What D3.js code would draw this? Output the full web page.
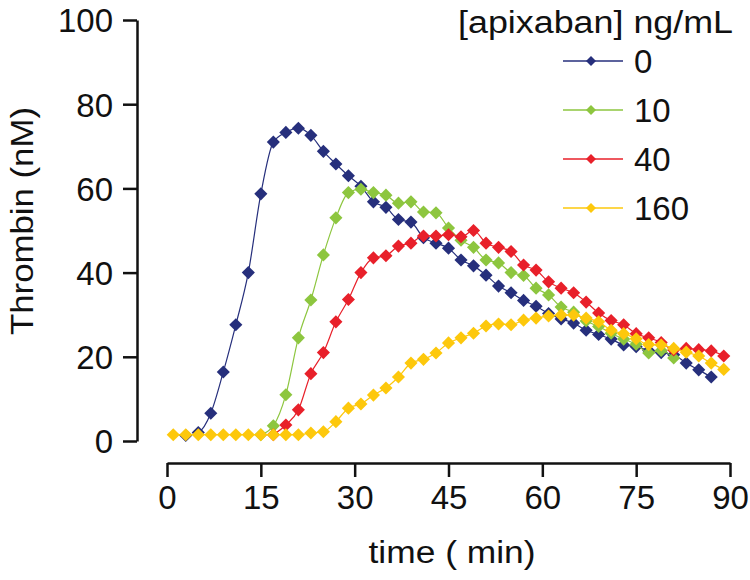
<!DOCTYPE html>
<html><head><meta charset="utf-8">
<script src="https://cdn.jsdelivr.net/npm/d3@7"></script>
<style>body{margin:0;background:#fff}svg{display:block}text{font-family:"Liberation Sans",Arial,sans-serif;fill:#111}</style>
</head><body><svg id="c" width="750" height="580"></svg>
<script>
const times = [1,3,5,7,9,11,13,15,17,19,21,23,25,27,29,31,33,35,37,39,41,43,45,47,49,51,53,55,57,59,61,63,65,67,69,71,73,75,77,79,81,83,85,87,89];
const seriesNames = ["0","10","40","160"];
const seriesColors = ["#262f7c","#8dc63f","#e8202a","#fdc80c"];
const apix0 = [null,1.3,2.0,6.6,16.4,27.6,40.0,58.7,71.0,73.3,74.3,72.6,68.8,65.8,63.0,60.5,56.8,55.5,52.6,52.0,48.3,47.0,45.8,43.0,41.6,39.4,36.8,35.2,33.4,32.0,30.3,29.0,28.0,26.3,25.3,24.2,22.8,22.4,21.5,21.0,20.5,18.5,16.9,15.2,null];
const apix10 = [null,null,null,null,null,null,null,1.5,3.6,11.0,24.5,33.5,44.2,53.0,59.0,59.8,59.0,58.4,56.5,56.8,54.4,54.2,50.6,47.7,46.0,43.0,42.3,40.0,39.3,36.3,34.7,31.8,30.6,28.5,27.2,25.6,24.2,23.0,20.9,21.5,19.7,null,null,null,null];
const apix40 = [null,null,null,null,null,null,null,null,1.5,3.8,7.4,16.0,21.0,28.3,33.6,40.0,43.5,44.0,46.3,47.0,48.7,48.7,49.0,48.5,50.0,47.0,46.0,45.0,41.8,40.6,37.8,36.3,35.2,33.0,30.4,28.6,27.6,25.5,24.5,23.4,21.6,22.0,21.7,21.4,20.2];
const apix160 = [1.5,1.5,1.5,1.5,1.5,1.5,1.5,1.5,1.5,1.5,1.5,1.9,2.2,4.6,7.8,8.8,10.9,12.6,15.2,18.5,19.4,20.9,23.3,24.5,25.6,27.3,27.8,27.6,28.7,29.2,29.7,29.9,29.9,29.2,28.3,26.3,25.5,24.3,22.9,22.8,22.0,21.1,20.2,18.5,17.0];
const xTicks = [0,15,30,45,60,75,90];
const yTicks = [0,20,40,60,80,100];
const allSeries = [apix0, apix10, apix40, apix160];

const svg = d3.select("#c");
const x = d3.scaleLinear().domain([0,90]).range([167,730]);
const y = d3.scaleLinear().domain([0,100]).range([441,20]);

const yAxis = svg.append("g").attr("transform","translate(137,0)")
  .call(d3.axisLeft(y).tickValues(yTicks).tickSize(14).tickPadding(10).tickSizeOuter(0));
const xAxis = svg.append("g").attr("transform","translate(0,463)")
  .call(d3.axisBottom(x).tickValues(xTicks).tickSize(14).tickPadding(9).tickSizeOuter(0));
[yAxis,xAxis].forEach(a=>{
  a.select(".domain").attr("stroke","#111").attr("stroke-width",2.5);
  a.selectAll(".tick line").attr("stroke","#111").attr("stroke-width",2.5);
  a.selectAll(".tick text").attr("font-size",33).attr("font-family","Liberation Sans, Arial, sans-serif").attr("fill","#111");
});
yAxis.selectAll(".tick text").attr("dy","0.36em");

svg.append("text").attr("transform","translate(33,221) rotate(-90)")
  .attr("text-anchor","middle").attr("font-size",32).attr("textLength",228).attr("lengthAdjust","spacingAndGlyphs").text("Thrombin (nM)");
svg.append("text").attr("x",452).attr("y",563).attr("text-anchor","middle")
  .attr("font-size",31).attr("textLength",167).attr("lengthAdjust","spacingAndGlyphs").text("time ( min)");

const sym = d3.symbol().type(d3.symbolSquare).size(86);
allSeries.forEach((vals,si)=>{
  const pts = times.map((t,i)=>({t,v:vals[i]})).filter(d=>d.v!==null);
  const line = d3.line().x(d=>x(d.t)).y(d=>y(d.v)).curve(d3.curveMonotoneX);
  svg.append("path").datum(pts).attr("d",line).attr("fill","none")
    .attr("stroke",seriesColors[si]).attr("stroke-width",1.2);
  svg.append("g").selectAll("path").data(pts).join("path")
    .attr("d",sym).attr("fill",seriesColors[si])
    .attr("transform",d=>`translate(${x(d.t)},${y(d.v)}) rotate(45)`);
});

svg.append("text").attr("x",733).attr("y",33).attr("text-anchor","end")
  .attr("font-size",31).attr("textLength",275).attr("lengthAdjust","spacingAndGlyphs").text("[apixaban] ng/mL");
const legSym = d3.symbol().type(d3.symbolSquare).size(50);
seriesNames.forEach((n,i)=>{
  const yy = 61 + i*49;
  const g = svg.append("g");
  g.append("line").attr("x1",563).attr("x2",623).attr("y1",yy).attr("y2",yy)
    .attr("stroke",seriesColors[i]).attr("stroke-width",1.5);
  g.append("path").attr("d",legSym).attr("fill",seriesColors[i])
    .attr("transform",`translate(591,${yy}) rotate(45)`);
  g.append("text").attr("x",634).attr("y",yy).attr("dy","0.36em").attr("font-size",33).text(n);
});
</script></body></html>
